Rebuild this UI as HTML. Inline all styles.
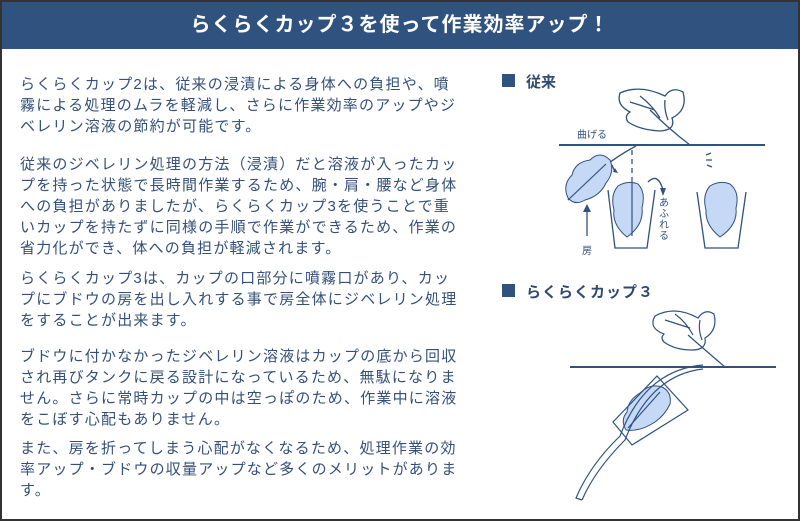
<!DOCTYPE html>
<html><head><meta charset="utf-8"><style>
html,body{margin:0;padding:0;background:#fff}
#w{position:relative;width:796px;height:517px;border:2px solid #333;overflow:hidden;font-family:"Liberation Sans","Noto Sans CJK JP",sans-serif}
#h{position:absolute;left:0;top:0;width:796px;height:47px;background:#30527e;color:#fff;font-weight:bold;font-size:20px;text-align:center;line-height:47px;letter-spacing:1px}
.p{position:absolute;left:18px;color:#34507a;font-size:15px;line-height:21px;letter-spacing:1.2px;white-space:nowrap}
</style></head><body><div id="w">
<div id="h">らくらくカップ３を使って作業効率アップ！</div>
<div class="p" style="top:72px">らくらくカップ2は、従来の浸漬による身体への負担や、噴<br>霧による処理のムラを軽減し、さらに作業効率のアップやジ<br>ベレリン溶液の節約が可能です。</div>
<div class="p" style="top:152px">従来のジベレリン処理の方法（浸漬）だと溶液が入ったカッ<br>プを持った状態で長時間作業するため、腕・肩・腰など身体<br>への負担がありましたが、らくらくカップ3を使うことで重<br>いカップを持たずに同様の手順で作業ができるため、作業の<br>省力化ができ、体への負担が軽減されます。</div>
<div class="p" style="top:266px">らくらくカップ3は、カップの口部分に噴霧口があり、カッ<br>プにブドウの房を出し入れする事で房全体にジベレリン処理<br>をすることが出来ます。</div>
<div class="p" style="top:344px">ブドウに付かなかったジベレリン溶液はカップの底から回収<br>され再びタンクに戻る設計になっているため、無駄になりま<br>せん。さらに常時カップの中は空っぽのため、作業中に溶液<br>をこぼす心配もありません。</div>
<div class="p" style="top:436px">また、房を折ってしまう心配がなくなるため、処理作業の効<br>率アップ・ブドウの収量アップなど多くのメリットがありま<br>す。</div>
<svg style="position:absolute;left:-2px;top:-2px" width="800" height="521" font-family="Liberation Sans,Noto Sans CJK JP,sans-serif">
<g fill="#30527e"><rect x="502" y="74" width="13" height="13"/><rect x="502" y="284" width="13" height="13"/></g>
<text x="526" y="87" font-size="15" font-weight="bold" fill="#2e4a72">従来</text>
<text x="526" y="297" font-size="15" font-weight="bold" fill="#2e4a72" letter-spacing="1">らくらくカップ３</text>
<g stroke="#30527e" fill="none" stroke-width="1.3">
<line x1="559" y1="145" x2="765" y2="145" stroke-width="2"/>
<path d="M620 93 Q640 84 665 96 Q672 86 683 92 Q688 110 672 118 Q676 130 660 131 Q640 130 628 122 Q624 116 630 112 Q616 105 620 93Z"/>
<path d="M690 145 Q670 130 650 110 M630 102 L655 110 M640 96 Q652 105 660 118 M665 100 Q664 110 668 120"/>
<path d="M636 146 Q600 165 568 200"/>
<path d="M632 150 L632 180" stroke-dasharray="5 4"/>
<path d="M608 190 L615 248 L647 248 L655 190"/>
<path d="M697 192 L705 248 L738 248 L746 192"/>
<path d="M648 182 Q658 172 663 190"/>
<path d="M612 165 L615 172"/>
<line x1="587" y1="236" x2="587" y2="210"/>
<path d="M706 155 l5 -2 M706 160 l6 0 M707 165 l5 2"/>
</g>
<g fill="#30527e"><path d="M583 212 L587 204 L591 212Z"/><path d="M660 188 L663 196 L666 188Z"/><path d="M613 172 l5 1 l-3 -5Z"/></g>
<text x="577" y="138" font-size="10" fill="#34507a">曲げる</text>
<text x="582" y="254" font-size="10" fill="#34507a">房</text>
<text font-size="10" fill="#34507a"><tspan x="659" y="206">あ</tspan><tspan x="659" y="217">ふ</tspan><tspan x="659" y="228">れ</tspan><tspan x="659" y="239">る</tspan></text>
<g fill="#c5d8f5" stroke="#30527e" stroke-width="1">
<path d="M568 198 Q562 185 572 175 Q575 162 590 160 Q600 150 610 160 Q615 172 606 183 Q600 196 585 200 Q575 206 568 198Z"/>
<path d="M627 237 Q612 225 614 210 Q610 195 618 186 Q628 180 638 184 Q646 192 642 208 Q644 225 627 237Z"/>
<path d="M720 237 Q705 225 706 210 Q702 195 710 186 Q720 180 730 184 Q740 192 736 208 Q738 225 720 237Z"/>
<path d="M626 430 Q620 420 627 412 Q628 400 640 393 Q650 383 662 387 Q672 392 670 404 Q665 415 655 422 Q640 432 626 430Z"/>
</g>
<g stroke="#30527e" fill="none" stroke-width="1.2">
<line x1="568" y1="200" x2="606" y2="164"/>
<line x1="632" y1="180" x2="632" y2="236"/>
<line x1="570" y1="367" x2="776" y2="367" stroke-width="2"/>
<path d="M655 316 Q675 305 698 318 Q705 308 714 314 Q718 330 705 338 Q707 350 692 350 Q675 350 664 342 Q660 338 664 334 Q648 328 655 316Z"/>
<path d="M725 367 Q705 350 688 335 M665 320 L690 328 M675 314 Q686 322 693 335 M700 320 Q698 330 702 340"/>
<path d="M703 369 Q650 375 625 440 Q595 470 582 500 M703 365 Q645 370 620 436 Q590 465 576 498 L582 500"/>
<path d="M657 376 L688 410 L632 445 L613 422Z"/>
<line x1="628" y1="428" x2="660" y2="392"/>
</g>
</svg>
</div></body></html>
